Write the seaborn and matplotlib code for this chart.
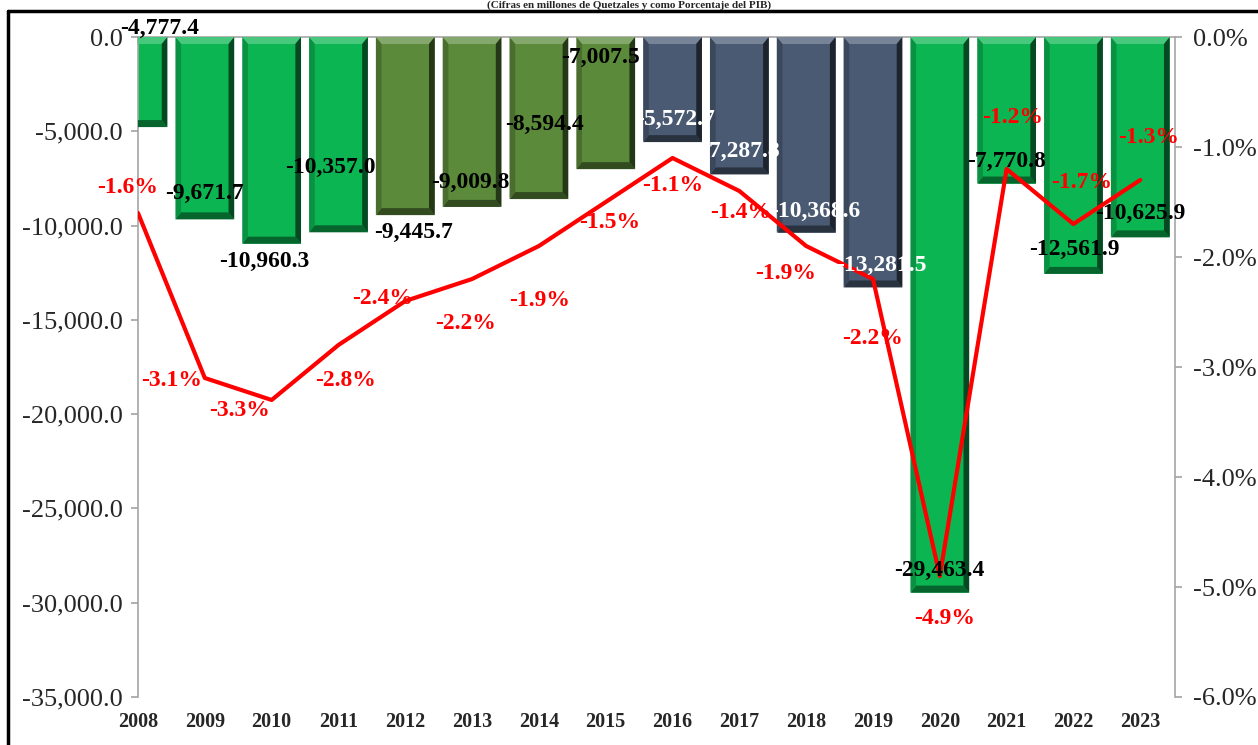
import numpy as np
import pandas as pd
import matplotlib
matplotlib.use("Agg")
import matplotlib.pyplot as plt
import seaborn as sns
from matplotlib.patches import Polygon
from matplotlib.lines import Line2D
from matplotlib.colors import to_rgb
from matplotlib.ticker import FuncFormatter, MultipleLocator

# ---- data ----
years = ["2008", "2009", "2010", "2011", "2012", "2013", "2014", "2015",
         "2016", "2017", "2018", "2019", "2020", "2021", "2022", "2023"]
deficit = [-4777.4, -9671.7, -10960.3, -10357.0, -9445.7, -9009.8, -8594.4, -7007.5,
           -5572.7, -7287.8, -10368.6, -13281.5, -29463.4, -7770.8, -12561.9, -10625.9]
pct_pib = [-1.6, -3.1, -3.3, -2.8, -2.4, -2.2, -1.9, -1.5,
           -1.1, -1.4, -1.9, -2.2, -4.9, -1.2, -1.7, -1.3]
groups = ["g", "g", "g", "g", "o", "o", "o", "o",
          "s", "s", "s", "s", "g", "g", "g", "g"]
title = "(Cifras en millones de Quetzales y como Porcentaje del PIB)"

# ---- style ----
group_colors = {"g": "#0BB652", "o": "#5B8A3A", "s": "#4A5A73"}
label_colors = {"g": "black", "o": "black", "s": "white"}
gray = "#A6A6A6"
# label offsets in pixels (dx, dy)
bar_dx = [22, 0, -7, -8, 8, -2, 6, -5, 3, 1, 9, 8, 0, 0, 1, 0]
bar_dy = [99, 26, -18, 65, -17, 24, 75, 112, 23, 23, 21, 22, 22, 22, 24, 24]
pct_dx = [-10, -33, -32, 7, -23, -7, 1, 4, 0, 1, -21, 0, 5, 6, 8, 8]
pct_dy = [26, -2, -10, -35, 3, -44, -54, -20, -27, -22, -27, -59, -42, 52, 42, 43]

sns.set_theme(style="white")
plt.rcParams["font.family"] = ["Liberation Serif", "DejaVu Serif"]

W, H = 1258, 745
fig = plt.figure(figsize=(W / 100, H / 100), dpi=100)
ax = fig.add_axes([138 / W, 1 - 697 / H, (1175 - 138) / W, 660 / H])

df = pd.DataFrame({"year": years, "deficit": deficit, "group": groups})
palette = [group_colors[g] for g in groups]
sns.barplot(data=df, x="year", y="deficit", hue="year", palette=palette,
            legend=False, width=0.88, saturation=1, ax=ax, zorder=2)

n = len(years)
ax.set_xlim(0, 15.52)
ax.set_ylim(-35000, 0)
ax.yaxis.set_major_locator(MultipleLocator(5000))
ax.yaxis.set_major_formatter(FuncFormatter(lambda v, _: f"{v:,.1f}" if v != 0 else "0.0"))

# bevel effect from bar geometry
def blend(c, t, k):
    c = np.array(to_rgb(c)); t = np.array(to_rgb(t))
    return tuple(c * (1 - k) + t * k)

bx = 0.085
by = 7 * 35000 / 660
for p, g in zip(ax.patches, groups):
    c = group_colors[g]
    x0, w = p.get_x(), p.get_width()
    y0, h = p.get_y(), p.get_height()
    top, bot = max(y0, y0 + h), min(y0, y0 + h)
    x1 = x0 + w
    polys = [
        ([(x0, top), (x1, top), (x1 - bx, top - by), (x0 + bx, top - by)], blend(c, "white", 0.25)),
        ([(x0, bot), (x1, bot), (x1 - bx, bot + by), (x0 + bx, bot + by)], blend(c, "black", 0.45)),
        ([(x1, top), (x1, bot), (x1 - bx, bot + by), (x1 - bx, top - by)], blend(c, "black", 0.6)),
        ([(x0, top), (x0, bot), (x0 + bx, bot + by), (x0 + bx, top - by)], blend(c, "black", 0.2)),
    ]
    for pts, col in polys:
        ax.add_patch(Polygon(pts, closed=True, facecolor=col, edgecolor="none", zorder=3))

ax.set_xlabel("")
ax.set_ylabel("")
ax.set_xticks(range(n))
ax.set_xticklabels(years, fontsize=14.5, fontweight="bold")
ax.tick_params(axis="x", bottom=False, top=True, direction="in", length=6,
               color=gray, labelbottom=True, labeltop=False, pad=11)
ax.tick_params(axis="y", left=True, direction="out", length=5, color=gray,
               labelsize=19, pad=6)
for s in ["bottom", "right"]:
    ax.spines[s].set_visible(False)
for s in ["top", "left"]:
    ax.spines[s].set_color(gray)
    ax.spines[s].set_linewidth(1.2)
ax.grid(False)

# secondary axis line
ax2 = ax.twinx()
sns.lineplot(x=np.arange(n), y=pct_pib, ax=ax2, color="#FF0000", linewidth=3, zorder=5)
ax2.set_xlim(0, 15.52)
ax2.set_ylim(-6, 0)
ax2.yaxis.set_major_locator(MultipleLocator(1))
ax2.yaxis.set_major_formatter(FuncFormatter(lambda v, _: f"{v:.1f}%" if abs(v) > 1e-9 else "0.0%"))
ax2.tick_params(axis="y", right=True, direction="out", length=5, color=gray,
                labelsize=19, pad=8)
for s in ["top", "left", "bottom"]:
    ax2.spines[s].set_visible(False)
ax2.spines["right"].set_color(gray)
ax2.spines["right"].set_linewidth(1.2)
ax2.grid(False)
ax2.set_ylabel("")

# labels
for i in range(n):
    ax2.annotate(f"{deficit[i]:,.1f}", xy=(i, deficit[i]), xycoords=ax.transData,
                 xytext=(bar_dx[i], bar_dy[i]), textcoords="offset pixels",
                 ha="center", va="center", fontsize=17, fontweight="bold",
                 color=label_colors[groups[i]], annotation_clip=False, zorder=6)
    ax2.annotate(f"{pct_pib[i]:.1f}%", xy=(i, pct_pib[i]), xycoords=ax2.transData,
                 xytext=(pct_dx[i], pct_dy[i]), textcoords="offset pixels",
                 ha="center", va="center", fontsize=17, fontweight="bold",
                 color="#FF0000", annotation_clip=False, zorder=6)

# frame and title
fig.add_artist(Line2D([8 / W, 1], [1 - 11 / H, 1 - 11 / H], color="black", lw=2.5,
                      transform=fig.transFigure))
fig.add_artist(Line2D([8 / W, 8 / W], [0, 1 - 11 / H], color="black", lw=2.5,
                      transform=fig.transFigure))
fig.text(0.5, 1 - 0.5 / H, title, ha="center", va="top", fontsize=8, fontweight="bold")

fig.savefig("out.png", dpi=100)
